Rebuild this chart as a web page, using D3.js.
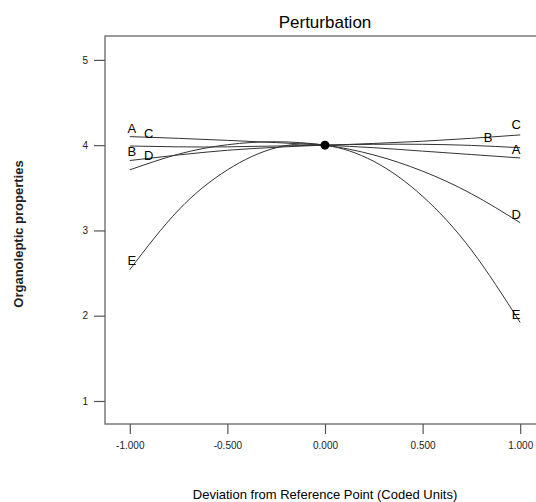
<!doctype html>
<html>
<head>
<meta charset="utf-8">
<script src="https://d3js.org/d3.v7.min.js"></script>
<style>
body { margin: 0; background: #fff; }
text { font-family: "Liberation Sans", Arial, sans-serif; }
</style>
</head>
<body>
<svg class="plot"></svg>
<script>
// deviation (coded units) where the curves were read
var xs = [-1, -0.75, -0.5, -0.25, 0, 0.25, 0.5, 0.75, 1];
var factorA = [4.10, 4.08, 4.056, 4.03, 4.0, 3.97, 3.93, 3.89, 3.85];
var factorB = [3.82, 3.885, 3.94, 3.975, 4.0, 4.01, 4.01, 3.997, 3.97];
var factorC = [3.99, 3.98, 3.98, 3.99, 4.0, 4.02, 4.046, 4.08, 4.12];
var factorD = [3.71, 3.895, 4.005, 4.04, 4.0, 3.885, 3.695, 3.43, 3.09];
var factorE = [2.54, 3.24, 3.71, 3.97, 4.0, 3.81, 3.40, 2.77, 1.92];
var names = ["A", "B", "C", "D", "E"];
var xTicks = [-1, -0.5, 0, 0.5, 1];
var yTicks = [1, 2, 3, 4, 5];
var refPoint = [0, 4];

var series = [factorA, factorB, factorC, factorD, factorE];

// label offsets from each curve end, in pixels
var leftOff = {A: [2, -9], B: [2, -10], C: [19, -13], D: [19, -15], E: [2, -10]};
var rightOff = {A: [-4, -9], B: [-32, -11], C: [-4, -11], D: [-4, -9], E: [-4, -9]};

var W = 536, H = 502;
var svg = d3.select(".plot").attr("width", W).attr("height", H);

var x = d3.scaleLinear().domain([-1.127, 1.127]).range([105, 545]);
var y = d3.scaleLinear().domain([0.73, 5.28]).range([424, 36]);

svg.append("rect")
    .attr("x", x.range()[0]).attr("y", y.range()[1])
    .attr("width", x.range()[1] - x.range()[0])
    .attr("height", y.range()[0] - y.range()[1])
    .attr("fill", "none").attr("stroke", "#7a7a7a").attr("stroke-width", 1.5);

var fmt3 = function (d) { return d3.format(".3f")(d).replace("\u2212", "-"); };

var xAxis = svg.append("g")
    .attr("transform", "translate(0," + y.range()[0] + ")")
    .call(d3.axisBottom(x).tickValues(xTicks).tickFormat(fmt3)
        .tickSize(10).tickPadding(8));
var yAxis = svg.append("g")
    .attr("transform", "translate(" + x.range()[0] + ",0)")
    .call(d3.axisLeft(y).tickValues(yTicks).tickFormat(d3.format("d"))
        .tickSize(11).tickPadding(6));
[xAxis, yAxis].forEach(function (g) {
    g.select(".domain").remove();
    g.selectAll(".tick line").attr("stroke", "#555").attr("stroke-width", 1.2);
    g.selectAll(".tick text").attr("font-size", 10).attr("fill", "#222");
});

var line = d3.line()
    .x(function (d, i) { return x(xs[i]); })
    .y(function (d) { return y(d); })
    .curve(d3.curveNatural);

svg.selectAll(".curve").data(series).enter().append("path")
    .attr("class", "curve")
    .attr("d", line)
    .attr("fill", "none")
    .attr("stroke", "#333")
    .attr("stroke-width", 1);

series.forEach(function (s, i) {
    var k = names[i], n = s.length - 1;
    svg.append("text")
        .attr("x", x(xs[0]) + leftOff[k][0])
        .attr("y", y(s[0]) + leftOff[k][1] + 5)
        .attr("text-anchor", "middle").attr("font-size", 13).text(k);
    svg.append("text")
        .attr("x", x(xs[n]) + rightOff[k][0])
        .attr("y", y(s[n]) + rightOff[k][1] + 5)
        .attr("text-anchor", "middle").attr("font-size", 13).text(k);
});

svg.append("circle")
    .attr("cx", x(refPoint[0])).attr("cy", y(refPoint[1]))
    .attr("r", 4.5).attr("fill", "#000");

svg.append("text")
    .attr("x", 325).attr("y", 28)
    .attr("text-anchor", "middle").attr("font-size", 17)
    .text("Perturbation");

svg.append("text")
    .attr("x", 325).attr("y", 499)
    .attr("text-anchor", "middle").attr("font-size", 13)
    .text("Deviation from Reference Point (Coded Units)");

svg.append("text")
    .attr("transform", "translate(23,234) rotate(-90)")
    .attr("text-anchor", "middle").attr("font-size", 13).attr("font-weight", "bold")
    .attr("fill", "#222")
    .text("Organoleptic properties");
</script>
</body>
</html>
